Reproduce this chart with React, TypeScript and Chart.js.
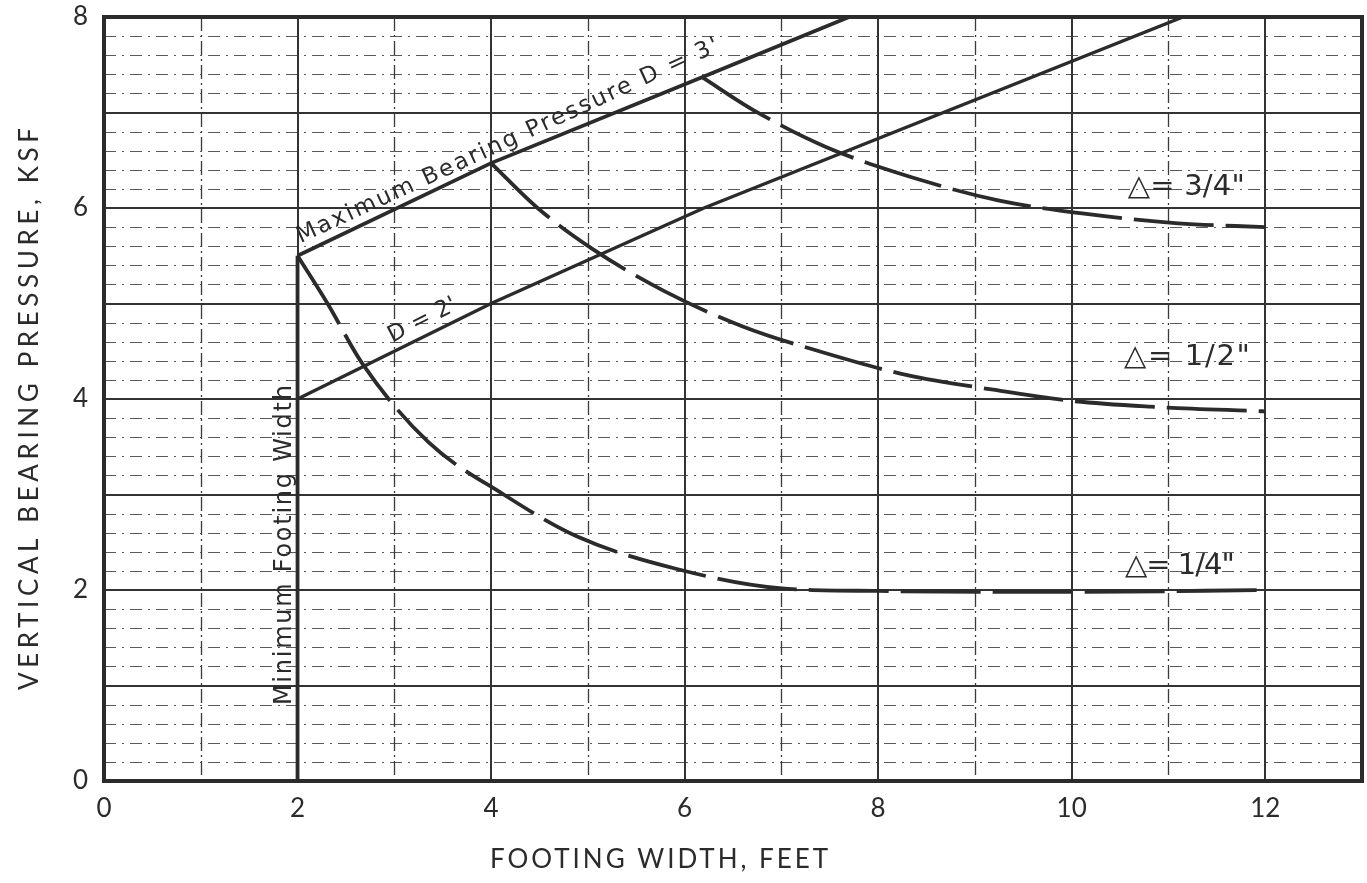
import React, { useEffect, useRef } from 'react';
import { Chart, registerables } from 'chart.js';

Chart.register(...registerables);

// ---- data ----
const xTickLabels = [0, 2, 4, 6, 8, 10, 12];
const yTickLabels = [0, 2, 4, 6, 8];

const maxBearingX = [2, 4, 6.18, 7.7];
const maxBearingY = [5.5, 6.47, 7.37, 8.0];

const d2X = [2, 4, 6.2, 11.15];
const d2Y = [4.0, 5.0, 6.0, 8.0];

const minWidthX = [2, 2];
const minWidthY = [0, 5.5];

const delta14X = [2, 2.31, 2.67, 3.35, 4.13, 4.89, 5.92, 6.98, 8, 10, 12];
const delta14Y = [5.5, 5.0, 4.37, 3.55, 3.0, 2.56, 2.22, 2.02, 1.99, 1.98, 2.0];

const delta12X = [4, 4.48, 5.05, 5.79, 6.6, 7.39, 8.3, 9.17, 10, 10.81, 12];
const delta12Y = [6.47, 6.0, 5.57, 5.13, 4.76, 4.5, 4.25, 4.1, 3.98, 3.92, 3.87];

const delta34X = [6.18, 6.72, 7.46, 8.45, 9.24, 10.13, 11.1, 12];
const delta34Y = [7.37, 7.02, 6.64, 6.29, 6.08, 5.94, 5.84, 5.8];

const curveLabels = ['\u25B3= 3/4"', '\u25B3= 1/2"', '\u25B3= 1/4"'];
const xTitle = 'FOOTING WIDTH, FEET';
const yTitle = 'VERTICAL BEARING PRESSURE, KSF';
const maxBearingLabel = "Maximum Bearing Pressure D = 3'";
const d2Label = "D = 2'";
const minWidthLabel = 'Minimum Footing Width';

const pts = (xs: number[], ys: number[]) => xs.map((x, i) => ({ x, y: ys[i] }));

const INK = '#2b2b2b';
const FONT = 'Lato, "DejaVu Sans", sans-serif';
const LFONT = '"DejaVu Sans", sans-serif';

function drawFitted(
  ctx: CanvasRenderingContext2D,
  text: string,
  x: number,
  y: number,
  target: number,
  align: 'left' | 'center'
) {
  (ctx as any).letterSpacing = '0px';
  const w = ctx.measureText(text).width;
  let sp = (target - w) / Math.max(text.length - 1, 1);
  if (sp < -1.5) sp = -1.5;
  (ctx as any).letterSpacing = sp + 'px';
  const total = w + sp * (text.length - 1);
  ctx.textAlign = 'left';
  ctx.fillText(text, align === 'center' ? x - total / 2 : x, y);
  (ctx as any).letterSpacing = '0px';
}

const paperPlugin = {
  id: 'paper',
  beforeDatasetsDraw(chart: any) {
    const { ctx, chartArea: a, scales } = chart;
    const xs = scales.x;
    const ys = scales.y;
    const line = (x1: number, y1: number, x2: number, y2: number) => {
      ctx.beginPath();
      ctx.moveTo(x1, y1);
      ctx.lineTo(x2, y2);
      ctx.stroke();
    };
    ctx.save();
    // minor horizontal rulings every 0.2
    ctx.strokeStyle = '#5a5a5a';
    ctx.lineWidth = 1;
    ctx.setLineDash([12, 6, 2, 6]);
    for (let i = 1; i < 40; i++) {
      if (i % 5 === 0) continue;
      const py = Math.round(ys.getPixelForValue(i * 0.2)) + 0.5;
      line(a.left, py, a.right, py);
    }
    // odd vertical rulings (dash-dot)
    ctx.strokeStyle = '#3a3a3a';
    ctx.lineWidth = 1.3;
    ctx.setLineDash([14, 4, 2, 4]);
    for (let v = 1; v < 13; v += 2) {
      const px = Math.round(xs.getPixelForValue(v)) + 0.5;
      line(px, a.top, px, a.bottom);
    }
    // major rulings
    ctx.setLineDash([]);
    ctx.strokeStyle = '#333';
    ctx.lineWidth = 2;
    for (let v = 2; v <= 12; v += 2) {
      const px = Math.round(xs.getPixelForValue(v));
      line(px, a.top, px, a.bottom);
    }
    for (let v = 1; v <= 7; v++) {
      const py = Math.round(ys.getPixelForValue(v));
      line(a.left, py, a.right, py);
    }
    ctx.restore();
  },
  afterDraw(chart: any) {
    const { ctx, chartArea: a, scales } = chart;
    const xs = scales.x;
    const ys = scales.y;
    ctx.save();
    // frame
    ctx.strokeStyle = INK;
    ctx.lineWidth = 4;
    ctx.setLineDash([]);
    ctx.strokeRect(a.left, a.top, a.right - a.left, a.bottom - a.top);

    ctx.fillStyle = INK;
    ctx.textBaseline = 'alphabetic';

    // Maximum bearing pressure label
    ctx.save();
    ctx.translate(xs.getPixelForValue(2.03), ys.getPixelForValue(5.63));
    ctx.rotate((-24.7 * Math.PI) / 180);
    ctx.font = `23px ${LFONT}`;
    drawFitted(ctx, maxBearingLabel, 0, 0, 462, 'left');
    ctx.restore();

    // D = 2' label
    ctx.save();
    ctx.translate(xs.getPixelForValue(2.98), ys.getPixelForValue(4.59));
    ctx.rotate((-27 * Math.PI) / 180);
    ctx.font = `23px ${LFONT}`;
    drawFitted(ctx, d2Label, 0, 0, 74, 'left');
    ctx.restore();

    // Minimum footing width
    ctx.save();
    ctx.translate(xs.getPixelForValue(2) - 7, ys.getPixelForValue(2.47));
    ctx.rotate(-Math.PI / 2);
    ctx.font = `24px ${LFONT}`;
    drawFitted(ctx, minWidthLabel, 0, 0, 320, 'center');
    ctx.restore();

    // Delta labels
    const dPos = [
      [10.58, 6.21, 117],
      [10.54, 4.44, 126],
      [10.55, 2.25, 110],
    ];
    ctx.font = `29px ${LFONT}`;
    ctx.textBaseline = 'middle';
    curveLabels.forEach((t, i) => {
      const [dx, dy, w] = dPos[i];
      drawFitted(ctx, t, xs.getPixelForValue(dx), ys.getPixelForValue(dy), w, 'left');
    });

    // axis titles
    ctx.font = `26px ${FONT}`;
    ctx.textBaseline = 'middle';
    drawFitted(ctx, xTitle, 659, 860, 338, 'center');
    ctx.save();
    ctx.translate(30, 409);
    ctx.rotate(-Math.PI / 2);
    drawFitted(ctx, yTitle, 0, 0, 562, 'center');
    ctx.restore();

    ctx.restore();
  },
};

export default function App() {
  const ref = useRef<HTMLCanvasElement | null>(null);

  useEffect(() => {
    if (!ref.current) return;
    const lineBase = {
      borderColor: INK,
      pointRadius: 0,
      fill: false,
      tension: 0,
    };
    const curveBase = {
      ...lineBase,
      borderWidth: 3.8,
      borderDash: [80, 12],
      cubicInterpolationMode: 'monotone' as const,
    };
    const chart = new Chart(ref.current, {
      type: 'line',
      data: {
        datasets: [
          { ...lineBase, label: maxBearingLabel, data: pts(maxBearingX, maxBearingY), borderWidth: 3.8 },
          { ...lineBase, label: d2Label, data: pts(d2X, d2Y), borderWidth: 3.4 },
          { ...lineBase, label: minWidthLabel, data: pts(minWidthX, minWidthY), borderWidth: 3.8 },
          { ...curveBase, label: curveLabels[2], data: pts(delta14X, delta14Y) },
          { ...curveBase, label: curveLabels[1], data: pts(delta12X, delta12Y) },
          { ...curveBase, label: curveLabels[0], data: pts(delta34X, delta34Y) },
        ],
      },
      options: {
        animation: false,
        responsive: true,
        maintainAspectRatio: false,
        layout: { padding: { top: 17, right: 5, left: 0, bottom: 0 } },
        plugins: {
          legend: { display: false },
          tooltip: { enabled: false },
        },
        scales: {
          x: {
            type: 'linear',
            min: 0,
            max: 13,
            grid: { display: false, drawTicks: false },
            border: { display: false },
            ticks: {
              stepSize: 2,
              includeBounds: false,
              padding: 12,
              color: INK,
              font: { family: FONT, size: 26 },
              maxRotation: 0,
              autoSkip: false,
              callback: (v: any) => (xTickLabels.includes(Number(v)) ? String(v) : ''),
            },
            afterFit: (s: any) => {
              s.height = 102;
            },
          },
          y: {
            type: 'linear',
            min: 0,
            max: 8,
            grid: { display: false, drawTicks: false },
            border: { display: false },
            ticks: {
              stepSize: 2,
              padding: 16,
              color: INK,
              font: { family: FONT, size: 26 },
              callback: (v: any) => (yTickLabels.includes(Number(v)) ? String(v) : ''),
            },
            afterFit: (s: any) => {
              s.width = 104;
              s.paddingTop = 0;
              s.paddingBottom = 0;
            },
          },
        },
      },
      plugins: [paperPlugin],
    });
    return () => chart.destroy();
  }, []);

  return (
    <div style={{ position: 'absolute', left: 0, top: 0, width: 1367, height: 883, background: '#fff' }}>
      <canvas ref={ref} />
    </div>
  );
}
